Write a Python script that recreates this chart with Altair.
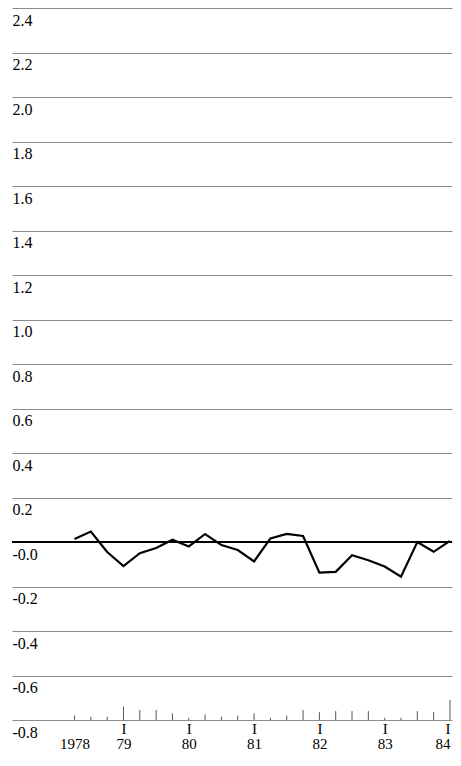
import altair as alt
import pandas as pd

# Quarterly periods: 1978 Q2 .. 1984 Q1
years = [1978, 1978, 1978, 1979, 1979, 1979, 1979, 1980, 1980, 1980, 1980,
         1981, 1981, 1981, 1981, 1982, 1982, 1982, 1982, 1983, 1983, 1983, 1983, 1984]
quarters = [2, 3, 4, 1, 2, 3, 4, 1, 2, 3, 4, 1, 2, 3, 4, 1, 2, 3, 4, 1, 2, 3, 4, 1]

# Main series
series = [0.014, 0.047, -0.045, -0.108, -0.050, -0.027, 0.010, -0.020, 0.036, -0.014,
          -0.036, -0.087, 0.016, 0.036, 0.027, -0.138, -0.134, -0.059, -0.082, -0.110,
          -0.156, 0.000, -0.044, 0.005]

# Small spikes standing on the bottom line
spikes = [0.02, 0.015, 0.015, 0.06, 0.045, 0.045, 0.03, 0.01, 0.025, 0.015, 0.02, 0.03,
          0.01, 0.02, 0.045, 0.035, 0.04, 0.04, 0.04, 0.01, 0.01, 0.04, 0.035, 0.09]

y_ticks = [-0.8, -0.6, -0.4, -0.2, 0.0, 0.2, 0.4, 0.6, 0.8, 1.0, 1.2, 1.4, 1.6, 1.8, 2.0, 2.2, 2.4]
x_ticks = [1978.25, 1979, 1980, 1981, 1982, 1983, 1984]

df = pd.DataFrame({"year": years, "q": quarters, "v": series, "h": spikes})
df["t"] = df["year"] + (df["q"] - 1) / 4.0

FONT = "Liberation Serif"

xscale = alt.Scale(domain=[1977.2925, 1984.031], nice=False, zero=False)
yscale = alt.Scale(domain=[-0.8, 2.4], nice=False, zero=False)

xaxis = alt.Axis(values=x_ticks, grid=False, domain=False, ticks=False, tickSize=0,
                 labelPadding=1.5, labelBaseline="top", labelLineHeight=15,
                 labelFontSize=15, labelFont=FONT, labelColor="black",
                 labelFlush=5, labelOverlap=False, title=None,
                 labelExpr="datum.value < 1978.5 ? [' ', '1978'] : ['I', substring(toString(datum.value), 2, 4)]")
yaxis = alt.Axis(values=y_ticks, grid=True, gridColor="#8c8c8c", gridWidth=1,
                 gridOpacity=1, domain=False, ticks=False, tickSize=0,
                 labelPadding=0, labelAlign="left", labelBaseline="middle",
                 labelOffset=12, labelFontSize=16, labelFont=FONT,
                 labelColor="black", labelFlush=False, labelOverlap=False,
                 title=None,
                 labelExpr="datum.value == 0 ? '-0.0' : (datum.value < 0 ? '-' + format(-datum.value, '.1f') : format(datum.value, '.1f'))")

base = alt.Chart(df)

line = base.mark_line(color="black", strokeWidth=2.2).encode(
    x=alt.X("t:Q", scale=xscale, axis=xaxis),
    y=alt.Y("v:Q", scale=yscale, axis=yaxis),
)

zero = base.mark_rule(color="black", strokeWidth=1.6).encode(
    y=alt.Y(datum=0, scale=yscale, axis=yaxis)
)

spk = base.transform_calculate(
    b="-0.8", top="-0.8 + datum.h"
).mark_rule(color="#555555", strokeWidth=1).encode(
    x=alt.X("t:Q", scale=xscale, axis=xaxis),
    y=alt.Y("b:Q", scale=yscale, axis=yaxis),
    y2="top:Q",
)

chart = alt.layer(zero, spk, line).properties(
    width=440,
    height=712,
    background="white",
    autosize=alt.AutoSizeParams(type="none"),
    padding={"left": 4, "top": 0, "right": 1, "bottom": 35},
).configure_view(stroke=None, strokeWidth=0)

chart.save("out.html", embed_options={"renderer": "svg", "actions": False})
